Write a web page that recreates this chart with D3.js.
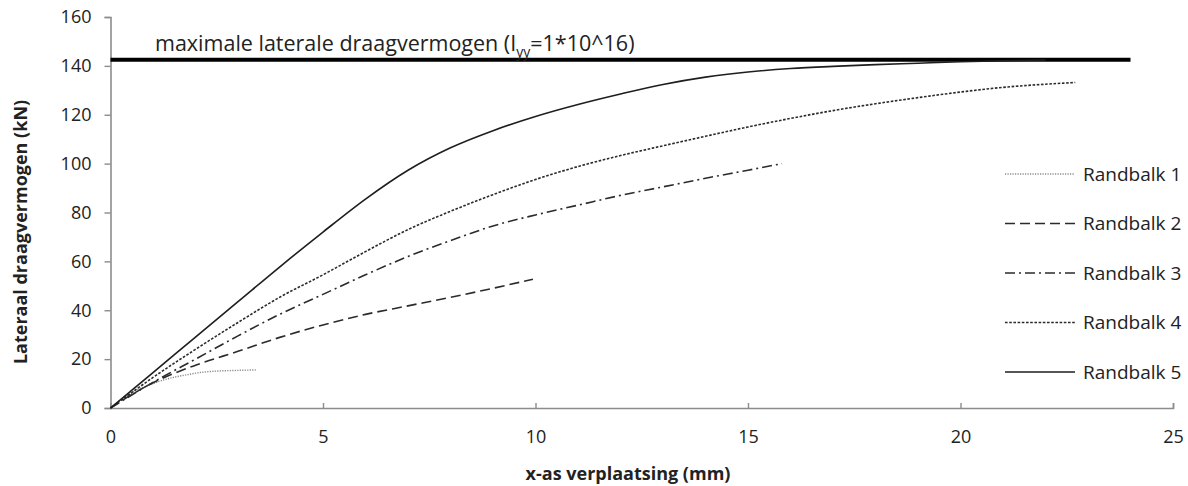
<!DOCTYPE html>
<html>
<head>
<meta charset="utf-8">
<script src="https://cdn.jsdelivr.net/npm/d3@7"></script>
<style>
  html, body { margin: 0; padding: 0; background: #fff; }
  svg { display: block; }
  text { font-family: "Open Sans", "Noto Sans", sans-serif; fill: #222; }
</style>
</head>
<body>
<svg id="chart" width="1188" height="486"></svg>
<script>
// Load–displacement curves for five edge beams (randbalken)
const seriesNames = ["Randbalk 1", "Randbalk 2", "Randbalk 3", "Randbalk 4", "Randbalk 5"];

const randbalk1 = [[0,0],[0.3,4],[0.6,7.2],[0.93,9.5],[1.2,11.2],[1.5,12.6],[1.8,13.6],[2.1,14.5],[2.5,15.1],[3,15.4],[3.45,15.6]];
const randbalk2 = [[0,0],[0.5,5.5],[1,10.3],[2,17.5],[3,23.2],[4,29],[5,34],[6,38.3],[7,41.8],[8,45.3],[9,49],[9.94,52.7]];
const randbalk3 = [[0,0],[1,10.5],[2,20],[3,29.5],[4,38.5],[5,46.5],[6,54.5],[7,62],[8,68.5],[9,74.5],[10,79],[11,83],[12,87],[13,90.5],[14,94],[15,97.3],[15.8,100]];
const randbalk4 = [[0,0],[1,12.5],[2,24],[3,35],[4,45.5],[5,54.5],[6,64],[7,73],[8,80.5],[9,87.3],[10,93.5],[11,98.8],[12,103.3],[13,107.3],[14,111.2],[15,115],[16,118.5],[17,121.7],[18,124.5],[19,127],[20,129.3],[21,131.2],[22,132.5],[22.7,133.2]];
const randbalk5 = [[0,0],[1,14.5],[2,29],[3,43.5],[4,58],[5,72],[6,85.5],[7,97.3],[8,106.5],[9,113.5],[10,119.3],[11,124.2],[12,128.5],[13,132.4],[14,135.4],[15,137.5],[16,138.9],[17,139.8],[18,140.5],[19,141.1],[20,141.7],[21,142.1],[22,142.4]];

// Maximum lateral capacity reference level
const maxCapacity = 142.5;
const maxCapacityRange = [0, 24];

const xTicks = [0, 5, 10, 15, 20, 25];
const yTicks = [0, 20, 40, 60, 80, 100, 120, 140, 160];

const seriesData = [randbalk1, randbalk2, randbalk3, randbalk4, randbalk5];
const seriesStyle = [
  { stroke: "#8a8a8a", width: 1.4, dash: "1.2,1.3" },
  { stroke: "#2b2b2b", width: 1.6, dash: "10,5" },
  { stroke: "#2b2b2b", width: 1.6, dash: "10,4,2,4" },
  { stroke: "#2b2b2b", width: 1.6, dash: "2.6,1.6" },
  { stroke: "#1e1e1e", width: 1.6, dash: null }
];

const svg = d3.select("#chart");

const x = d3.scaleLinear().domain([0, 25]).range([110.5, 1173]);
const y = d3.scaleLinear().domain([0, 160]).range([408, 17]);

// Axes
const yAxis = d3.axisLeft(y).tickValues(yTicks).tickSize(6).tickPadding(13);
const xAxis = d3.axisBottom(x).tickValues(xTicks).tickSizeInner(-5).tickSizeOuter(-5).tickPadding(22);

const gy = svg.append("g").attr("transform", `translate(${x(0)},0)`).call(yAxis);
const gx = svg.append("g").attr("transform", `translate(0,${y(0)})`).call(xAxis);

[gx, gy].forEach(g => {
  g.select(".domain").attr("stroke", "#8c8c8c").attr("stroke-width", 1.6);
  g.selectAll(".tick line").attr("stroke", "#8c8c8c").attr("stroke-width", 1.4);
  g.selectAll(".tick text").attr("fill", "#222").style("font-size", "18px")
    .style("font-family", '"Open Sans", sans-serif');
});

// Horizontal capacity line
svg.append("line")
  .attr("x1", x(maxCapacityRange[0])).attr("x2", x(maxCapacityRange[1]))
  .attr("y1", y(maxCapacity)).attr("y2", y(maxCapacity))
  .attr("stroke", "#000").attr("stroke-width", 4);

const capLabel = svg.append("text")
  .attr("x", 155).attr("y", 51)
  .style("font-size", "21.5px");
capLabel.append("tspan").text("maximale laterale draagvermogen (I");
capLabel.append("tspan").attr("dy", 6).style("font-size", "14px").text("yy");
capLabel.append("tspan").attr("dy", -6).text("=1*10^16)");

// Curves
const line = d3.line()
  .x(d => x(d[0]))
  .y(d => y(d[1]))
  .curve(d3.curveMonotoneX);

svg.append("g").selectAll("path")
  .data(seriesData)
  .join("path")
  .attr("d", line)
  .attr("fill", "none")
  .attr("stroke", (d, i) => seriesStyle[i].stroke)
  .attr("stroke-width", (d, i) => seriesStyle[i].width)
  .attr("stroke-dasharray", (d, i) => seriesStyle[i].dash);

// Legend
const legend = svg.append("g");
const legendY = i => 174 + i * 49.5;
seriesNames.forEach((name, i) => {
  legend.append("line")
    .attr("x1", 1005).attr("x2", 1075)
    .attr("y1", legendY(i)).attr("y2", legendY(i))
    .attr("stroke", seriesStyle[i].stroke)
    .attr("stroke-width", seriesStyle[i].width)
    .attr("stroke-dasharray", seriesStyle[i].dash);
  legend.append("text")
    .attr("x", 1083).attr("y", legendY(i))
    .attr("dy", "0.35em")
    .style("font-size", "19px")
    .text(name);
});

// Axis titles
svg.append("text")
  .attr("x", 628).attr("y", 480)
  .attr("text-anchor", "middle")
  .style("font-size", "18px").style("font-weight", "bold")
  .text("x-as verplaatsing (mm)");

svg.append("text")
  .attr("transform", "translate(27,232) rotate(-90)")
  .attr("text-anchor", "middle")
  .style("font-size", "18px").style("font-weight", "bold")
  .text("Lateraal draagvermogen (kN)");
</script>
</body>
</html>
